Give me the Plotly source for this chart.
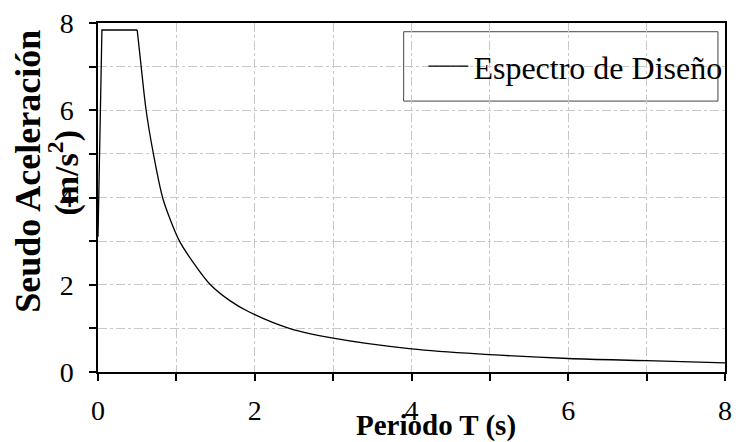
import plotly.graph_objects as go

# Rise + plateau segment
T_rise = [0.0, 0.05, 0.5]
Sa_rise = [3.1, 7.84, 7.84]

# Decay segment
T_dec = [0.5, 0.551, 0.614, 0.707, 0.824, 0.91, 1.04, 1.2, 1.435, 1.687, 1.918, 2.44, 3.0, 4.0, 5.0, 6.0, 7.0, 8.0]
Sa_dec = [7.84, 7.0, 6.0, 5.0, 4.0, 3.55, 3.0, 2.55, 2.0, 1.63, 1.386, 1.0, 0.775, 0.53, 0.40, 0.31, 0.26, 0.21]

x_ticks = [0, 1, 2, 3, 4, 5, 6, 7, 8]
x_labels = ["0", "", "2", "", "4", "", "6", "", "8"]
y_ticks = [0, 1, 2, 3, 4, 5, 6, 7, 8]
y_labels = ["0", "", "2", "", "4", "", "6", "", "8"]

SERIF = "Liberation Serif, Times New Roman, serif"

fig = go.Figure()
fig.add_trace(go.Scatter(x=T_rise, y=Sa_rise, mode="lines", name="Espectro de Diseño",
                         line=dict(color="black", width=1.3), legendgroup="e", showlegend=True))
fig.add_trace(go.Scatter(x=T_dec, y=Sa_dec, mode="lines", name="Espectro de Diseño",
                         line=dict(color="black", width=1.3, shape="spline", smoothing=1.0),
                         legendgroup="e", showlegend=False))

axis_common = dict(
    showline=True, linecolor="black", linewidth=1.5, mirror=True,
    ticks="outside", ticklen=7, tickwidth=1.5, tickcolor="black",
    showgrid=True, gridcolor="#c8c8c8", gridwidth=1, griddash="dashdot",
    zeroline=False, tickfont=dict(family=SERIF, size=28, color="black"),
)

fig.update_xaxes(range=[0, 8], tickvals=x_ticks, ticktext=x_labels, ticklabelstandoff=6, **axis_common)
fig.update_yaxes(range=[0, 8], tickvals=y_ticks, ticktext=y_labels, ticklabelstandoff=10, **axis_common)

fig.update_layout(
    width=740, height=442,
    margin=dict(l=98, r=8, t=18, b=70),
    paper_bgcolor="white", plot_bgcolor="white",
    font=dict(family=SERIF, color="black"),
    showlegend=True,
    legend=dict(x=0.519, y=0.876, xanchor="left", yanchor="middle",
                bgcolor="rgba(0,0,0,0)", borderwidth=0,
                font=dict(family=SERIF, size=32, color="black"),
                itemwidth=40, tracegroupgap=0),
    shapes=[
        dict(type="rect", xref="x", yref="y", x0=3.9, x1=7.91, y0=6.21, y1=7.8,
             fillcolor="white", line=dict(color="#444", width=1), layer="below"),
    ],
    annotations=[
        dict(text="<b>Periodo T (s)</b>", xref="paper", yref="paper", x=0.539, y=-0.152,
             xanchor="center", yanchor="middle", showarrow=False,
             font=dict(family=SERIF, size=29, color="black")),
        dict(text="<b>Seudo Aceleración</b>", xref="paper", yref="paper", x=-0.112, y=0.576,
             xanchor="center", yanchor="middle", showarrow=False, textangle=-90,
             font=dict(family=SERIF, size=36, color="black")),
        dict(text="<b>(m/s<sup>2</sup>)</b>", xref="paper", yref="paper", x=-0.055, y=0.57,
             xanchor="center", yanchor="middle", showarrow=False, textangle=-90,
             font=dict(family=SERIF, size=34, color="black")),
    ],
)

fig.write_html("out.html")
